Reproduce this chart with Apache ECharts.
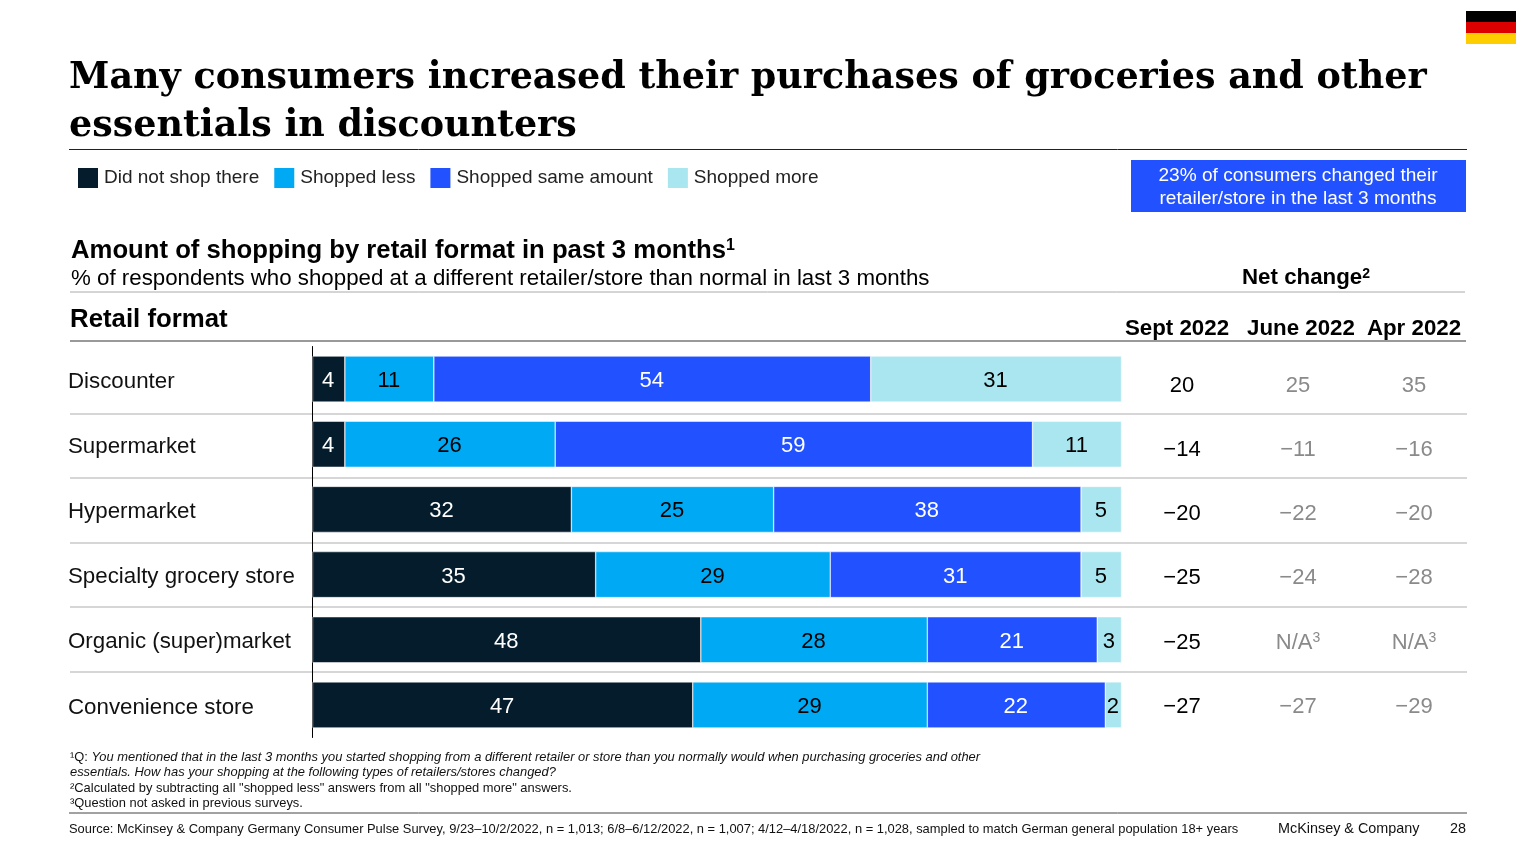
<!DOCTYPE html>
<html>
<head>
<meta charset="utf-8">
<title>Retail format shopping</title>
<script src="https://cdn.jsdelivr.net/npm/echarts@6/dist/echarts.min.js"></script>
<style>
html, body { margin: 0; padding: 0; background: #fff; }
#chart { width: 1536px; height: 864px; }
</style>
</head>
<body>
<div id="chart"></div>
<script>
var categories = ['Discounter', 'Supermarket', 'Hypermarket', 'Specialty grocery store', 'Organic (super)market', 'Convenience store'];
var didNotShop = [4, 4, 32, 35, 48, 47];
var shoppedLess = [11, 26, 25, 29, 28, 29];
var shoppedSame = [54, 59, 38, 31, 21, 22];
var shoppedMore = [31, 11, 5, 5, 3, 2];
var sept2022 = ['20', '−14', '−20', '−25', '−25', '−27'];
var june2022 = ['25', '−11', '−22', '−24', 'N/A', '−27'];
var apr2022 = ['35', '−16', '−20', '−28', 'N/A', '−29'];

var SANS = '"Liberation Sans", Arial, sans-serif';
var SERIF = '"DejaVu Serif", Georgia, serif';
var rowY = [385.5, 449.5, 513.5, 577.5, 642.5, 706.5];
var separatorY = [414, 478, 543, 607, 672];

function text(x, y, str, o) {
    o = o || {};
    return {
        type: 'text', x: x, y: y, scaleX: o.scaleX || 1, originX: 0, silent: true,
        style: {
            text: str, fill: o.color || '#000',
            font: (o.style ? o.style + ' ' : '') + (o.weight || 'normal') + ' ' + (o.size || 20) + 'px ' + (o.family || SANS),
            align: o.align || 'left', verticalAlign: 'middle', rich: o.rich
        }
    };
}
// text with a superscript footnote mark
function supText(x, y, str, mark, o) {
    var weight = o.weight || 'normal';
    var color = o.color || '#000';
    o.rich = {
        t: { font: weight + ' ' + o.size + 'px ' + SANS, fill: color },
        s: { font: weight + ' ' + Math.round(o.size * 0.62) + 'px ' + SANS, fill: color, verticalAlign: 'top' }
    };
    return text(x, y, '{t|' + str + '}{s|' + mark + '}', o);
}
function rule(x1, x2, y, color, width) {
    return { type: 'line', silent: true, shape: { x1: x1, y1: y, x2: x2, y2: y }, style: { stroke: color, lineWidth: width } };
}
function box(x, y, w, h, color) {
    return { type: 'rect', silent: true, shape: { x: x, y: y, width: w, height: h }, style: { fill: color } };
}

var graphics = [
    box(1466, 11, 50, 11, '#000000'),
    box(1466, 22, 50, 11, '#DD0000'),
    box(1466, 33, 50, 11, '#FFCE00'),
    text(69, 78, 'Many consumers increased their purchases of groceries and other', { size: 38, weight: 'bold', family: SERIF, scaleX: 0.96 }),
    text(69, 126, 'essentials in discounters', { size: 38, weight: 'bold', family: SERIF, scaleX: 0.96 }),
    rule(69, 1467, 149.5, '#222', 1),
    box(1131, 160, 335, 52, '#2251FF'),
    text(1298, 176, '23% of consumers changed their', { size: 19.1, color: '#fff', align: 'center' }),
    text(1298, 199, 'retailer/store in the last 3 months', { size: 19.1, color: '#fff', align: 'center' }),
    supText(71, 251, 'Amount of shopping by retail format in past 3 months', '1', { size: 25.7, weight: 'bold' }),
    text(71, 279, '% of respondents who shopped at a different retailer/store than normal in last 3 months', { size: 22.3 }),
    supText(1306, 278, 'Net change', '2', { size: 22.3, weight: 'bold', align: 'center' }),
    rule(70, 1465, 292, '#aaaaaa', 1),
    text(70, 320, 'Retail format', { size: 25.8, weight: 'bold' }),
    text(1177, 329, 'Sept 2022', { size: 22.3, weight: 'bold', align: 'center' }),
    text(1301, 329, 'June 2022', { size: 22.3, weight: 'bold', align: 'center' }),
    text(1414, 329, 'Apr 2022', { size: 22.3, weight: 'bold', align: 'center' }),
    rule(70, 1466, 341, '#999999', 2),
    text(70, 757, '{n|¹Q: }{i|You mentioned that in the last 3 months you started shopping from a different retailer or store than you normally would when purchasing groceries and other}', {
        size: 12.9,
        rich: { n: { font: '12.9px ' + SANS, fill: '#111' }, i: { font: 'italic 12.9px ' + SANS, fill: '#111' } }
    }),
    text(70, 772.5, 'essentials. How has your shopping at the following types of retailers/stores changed?', { size: 12.9, style: 'italic', color: '#111' }),
    text(70, 788, '²Calculated by subtracting all "shopped less" answers from all "shopped more" answers.', { size: 12.9, color: '#111' }),
    text(70, 803, '³Question not asked in previous surveys.', { size: 12.9, color: '#111' }),
    rule(69, 1467, 813, '#444', 1),
    text(69, 829, 'Source: McKinsey & Company Germany Consumer Pulse Survey, 9/23–10/2/2022, n = 1,013; 6/8–6/12/2022, n = 1,007; 4/12–4/18/2022, n = 1,028, sampled to match German general population 18+ years', { size: 12.9, color: '#111' }),
    text(1278, 829, 'McKinsey & Company', { size: 14.4, color: '#111' }),
    text(1466, 829, '28', { size: 14.4, color: '#111', align: 'right' })
];
separatorY.forEach(function (y) {
    graphics.push(rule(70, 1467, y, '#c8c8c8', 1.5));
});
function netCell(x, y, value, color) {
    var o = { size: 22, color: color, align: 'center' };
    return value === 'N/A' ? supText(x, y, value, '3', o) : text(x, y, value, o);
}
rowY.forEach(function (y, i) {
    graphics.push(netCell(1182, y, sept2022[i], '#000'));
    graphics.push(netCell(1298, y, june2022[i], '#8a8a8a'));
    graphics.push(netCell(1414, y, apr2022[i], '#8a8a8a'));
});

function barSeries(name, values, color, labelColor) {
    return {
        name: name, type: 'bar', stack: 'total', data: values, barWidth: 46,
        itemStyle: { color: color, borderColor: '#fff', borderWidth: 0.5 },
        label: { show: true, position: 'inside', offset: [-0.5, 2], color: labelColor, fontFamily: SANS, fontSize: 22 }
    };
}

var myChart = echarts.init(document.getElementById('chart'), null, { renderer: 'canvas' });
var option = {
    animation: false,
    backgroundColor: '#fff',
    legend: {
        left: 76, top: 166, itemWidth: 22, itemHeight: 22, itemGap: 13, selectedMode: false, icon: 'rect', padding: 0,
        textStyle: { fontFamily: SANS, fontSize: 19, color: '#222' }
    },
    grid: { left: 312.5, top: 346.5, width: 809, height: 391 },
    xAxis: { type: 'value', min: 0, max: 100, show: false },
    yAxis: {
        type: 'category', data: categories, inverse: true,
        axisLine: { show: true, lineStyle: { color: '#000', width: 1 } },
        axisTick: { show: false },
        // plain labels ignore padding when middle aligned, so shift them through a rich token
        axisLabel: {
            align: 'left', margin: 244.5, color: '#111',
            formatter: '{r|{value}}',
            rich: { r: { fontFamily: SANS, fontSize: 22.3, color: '#111', padding: [5, 0, 0, 0] } }
        }
    },
    series: [
        barSeries('Did not shop there', didNotShop, '#051C2C', '#fff'),
        barSeries('Shopped less', shoppedLess, '#00A9F4', '#000'),
        barSeries('Shopped same amount', shoppedSame, '#2251FF', '#fff'),
        barSeries('Shopped more', shoppedMore, '#AAE6F0', '#000')
    ],
    graphic: { elements: graphics }
};
myChart.setOption(option);
</script>
</body>
</html>
